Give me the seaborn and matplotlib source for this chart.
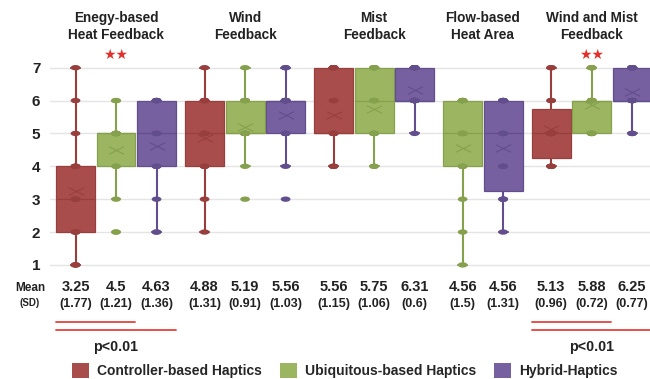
import numpy as np
import pandas as pd
import matplotlib
matplotlib.use("Agg")
import matplotlib.pyplot as plt
import matplotlib.transforms as mtransforms
from matplotlib.path import Path
from matplotlib.patches import Patch
import seaborn as sns

groups = ["Enegy-based\nHeat Feedback", "Wind\nFeedback", "Mist\nFeedback",
          "Flow-based\nHeat Area", "Wind and Mist\nFeedback"]
haptics = ["Controller-based Haptics", "Ubiquitous-based Haptics", "Hybrid-Haptics"]

# 16 ratings (1-7) per condition, estimated from the boxes, points and means
energy_ctrl = [1, 1, 1, 2, 2, 2, 3, 3, 3, 4, 4, 4, 4, 5, 6, 7]
energy_ubiq = [2, 2, 3, 4, 4, 5, 5, 5, 5, 5, 5, 5, 5, 5, 6, 6]
energy_hybrid = [2, 2, 3, 4, 4, 4, 5, 5, 5, 5, 5, 6, 6, 6, 6, 6]
wind_ctrl = [2, 3, 4, 4, 4, 5, 5, 5, 5, 5, 5, 6, 6, 6, 6, 7]
wind_ubiq = [3, 4, 5, 5, 5, 5, 5, 5, 5, 5, 5, 6, 6, 6, 6, 7]
wind_hybrid = [3, 4, 5, 5, 5, 5, 6, 6, 6, 6, 6, 6, 6, 6, 7, 7]
mist_ctrl = [4, 4, 4, 5, 5, 5, 5, 5, 5, 6, 6, 7, 7, 7, 7, 7]
mist_ubiq = [4, 4, 5, 5, 5, 5, 5, 6, 6, 6, 6, 7, 7, 7, 7, 7]
mist_hybrid = [5, 6, 6, 6, 6, 6, 6, 6, 6, 6, 7, 7, 7, 7, 7, 7]
flow_ubiq = [1, 2, 3, 4, 4, 4, 5, 5, 5, 5, 5, 6, 6, 6, 6, 6]
flow_hybrid = [2, 3, 3, 3, 4, 4, 4, 5, 5, 5, 5, 6, 6, 6, 6, 6]
windmist_ctrl = [4, 4, 4, 4, 5, 5, 5, 5, 5, 5, 5, 5, 6, 6, 7, 7]
windmist_ubiq = [5, 5, 5, 5, 5, 6, 6, 6, 6, 6, 6, 6, 6, 7, 7, 7]
windmist_hybrid = [5, 5, 5, 6, 6, 6, 6, 6, 6, 7, 7, 7, 7, 7, 7, 7]

ratings = [energy_ctrl, energy_ubiq, energy_hybrid,
           wind_ctrl, wind_ubiq, wind_hybrid,
           mist_ctrl, mist_ubiq, mist_hybrid,
           flow_ubiq, flow_hybrid,
           windmist_ctrl, windmist_ubiq, windmist_hybrid]
box_group = [0, 0, 0, 1, 1, 1, 2, 2, 2, 3, 3, 4, 4, 4]
box_haptic = [0, 1, 2, 0, 1, 2, 0, 1, 2, 1, 2, 0, 1, 2]

mean_labels = ["3.25", "4.5", "4.63", "4.88", "5.19", "5.56", "5.56", "5.75",
               "6.31", "4.56", "4.56", "5.13", "5.88", "6.25"]
sd_labels = ["(1.77)", "(1.21)", "(1.36)", "(1.31)", "(0.91)", "(1.03)", "(1.15)",
             "(1.06)", "(0.6)", "(1.5)", "(1.31)", "(0.96)", "(0.72)", "(0.77)"]

star_groups = [0, 4]
sig_pairs = [(0, 1), (0, 2), (11, 12), (11, 13)]
p_label = "p<0.01"

fill_colors = ["#a84d4b", "#9bb560", "#76609f"]
line_colors = ["#983f3d", "#86a14e", "#634e8d"]

# Excel-style (exclusive) quartiles, as in the original chart
_percentile = np.percentile


def excel_percentile(a, q, *args, **kwargs):
    kwargs.setdefault("method", "weibull")
    return _percentile(a, q, *args, **kwargs)


np.percentile = excel_percentile

group_gap = 0.185
box_pos = np.arange(len(ratings)) + group_gap * np.array(box_group)

rows = []
for p, g, h, vals in zip(box_pos, box_group, box_haptic, ratings):
    for v in vals:
        rows.append({"pos": p, "group": groups[g], "haptic": haptics[h], "score": v})
df = pd.DataFrame(rows)

sns.set_style("white")
plt.rcParams["font.family"] = ["Liberation Sans", "DejaVu Sans"]
plt.rcParams["font.weight"] = "bold"
text_color = "#222222"

fig = plt.figure(figsize=(6.5, 3.79), dpi=100)
ax = fig.add_axes([50 / 650, 0.288, 600 / 650, 0.5464])

xmark = Path([(-1, -0.5), (1, 0.5), (-1, 0.5), (1, -0.5)],
             [Path.MOVETO, Path.LINETO, Path.MOVETO, Path.LINETO])
circ = Path.unit_circle()
ellipse = Path(circ.vertices * [1, 0.55], circ.codes)

sns.boxplot(data=df, x="pos", y="score", hue="haptic", hue_order=haptics,
            palette=fill_colors, native_scale=True, dodge=False, width=0.96,
            whis=1.5, saturation=1, showfliers=False, showmeans=True,
            meanprops=dict(marker=xmark, markersize=11, markeredgewidth=0.8,
                           markerfacecolor="none"),
            capwidths=0.22, linewidth=1.5, legend=False, ax=ax)

# colour the lines of each box in a darker shade of its fill
for line in ax.lines:
    xd = np.asarray(line.get_xdata(), dtype=float)
    i = np.abs(box_pos - xd.mean()).argmin()
    c = line_colors[box_haptic[i]]
    line.set_color(c)
    line.set_markeredgecolor(c)
    if len(xd) == 2 and abs(xd[1] - xd[0]) > 0.5:
        line.set_linewidth(0.9)
for patch in ax.patches:
    xm = patch.get_path().vertices[:, 0].mean()
    i = np.abs(box_pos - xm).argmin()
    patch.set_edgecolor(line_colors[box_haptic[i]])
    patch.set_linewidth(0.9)

sns.stripplot(data=df, x="pos", y="score", hue="haptic", hue_order=haptics,
              palette=line_colors, native_scale=True, jitter=False, dodge=False,
              marker=ellipse, size=7, linewidth=0, legend=False, ax=ax, zorder=4)

ax.set_xlim(-0.63, 14.18)
ax.set_ylim(0.85, 7.15)
ax.set_yticks(range(1, 8))
ax.set_xticks([])
ax.set_xlabel("")
ax.set_ylabel("")
ax.tick_params(axis="y", length=0, pad=7, labelsize=11, labelcolor=text_color)
ax.grid(axis="y", color="#e4e4e4", lw=1)
ax.set_axisbelow(True)
sns.despine(ax=ax, left=True, bottom=True)

trans = mtransforms.blended_transform_factory(ax.transData, ax.transAxes)
group_centers = [box_pos[np.array(box_group) == g].mean() for g in range(len(groups))]

for cx, name in zip(group_centers, groups):
    ax.text(cx, 1.175, name, transform=trans, ha="center", va="center",
            fontsize=9.8, fontweight="bold", linespacing=1.25, color=text_color)
for g in star_groups:
    ax.text(group_centers[g], 1.037, "\u2605\u2605", transform=trans, ha="center",
            va="center", fontsize=10, color="#e3302c", family="DejaVu Sans")

for p, m, s in zip(box_pos, mean_labels, sd_labels):
    ax.text(p, -0.083, m, transform=trans, ha="center", va="center",
            fontsize=10.5, fontweight="bold", color=text_color)
    ax.text(p, -0.165, s, transform=trans, ha="center", va="center",
            fontsize=9, fontweight="bold", color=text_color)
fig.text(0.046, 1 - 288 / 379, "Mean", ha="center", va="center", fontsize=8.5,
         fontweight="bold", color=text_color)
fig.text(0.046, 1 - 303 / 379, "(SD)", ha="center", va="center", fontsize=7,
         fontweight="bold", color=text_color)

for k, (a, b) in enumerate(sig_pairs):
    y = -0.25 if k % 2 == 0 else -0.29
    ax.plot([box_pos[a] - 0.48, box_pos[b] + 0.48], [y, y], transform=trans,
            clip_on=False, color="#e4433d", lw=1.3)
for g in star_groups:
    ax.text(group_centers[g], -0.371, p_label, transform=trans, ha="center",
            va="center", fontsize=10.3, fontweight="bold", color=text_color)

handles = [Patch(facecolor=c, edgecolor="none") for c in fill_colors]
fig.legend(handles, haptics, loc="lower center", bbox_to_anchor=(0.53, -0.012),
           ncol=3, frameon=False, prop=dict(weight="bold", size=10),
           handlelength=1.25, handleheight=1.25, handletextpad=0.55,
           columnspacing=1.3, borderaxespad=0)

fig.savefig("out.png", dpi=100)
